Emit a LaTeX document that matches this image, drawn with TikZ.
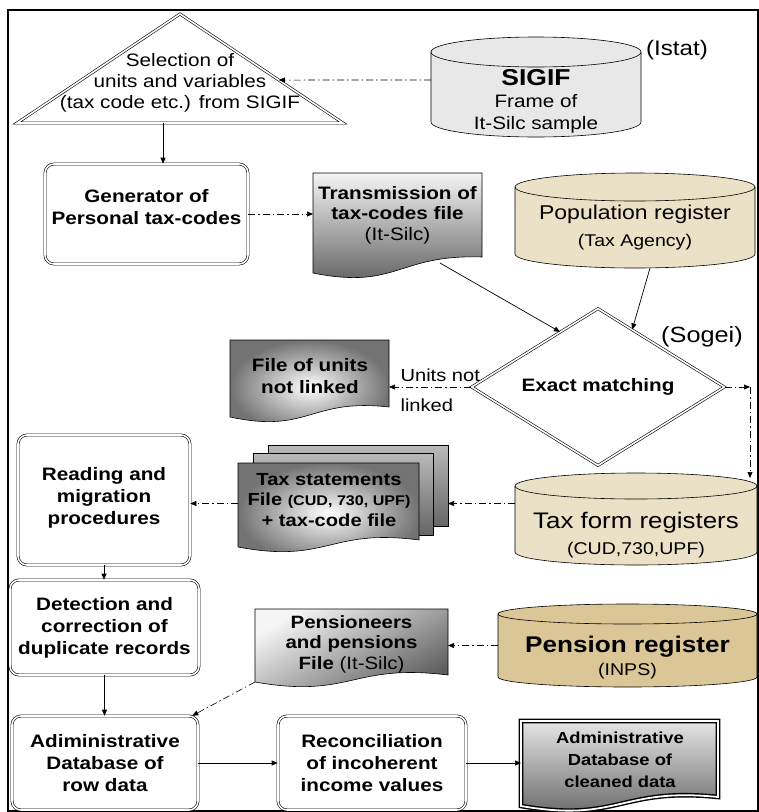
\documentclass[tikz,border=0pt]{standalone}
\usepackage{fontspec}
\setmainfont{Liberation Sans}[FakeStretch=1.15]
\usetikzlibrary{shapes.geometric,arrows.meta,calc,positioning}

\definecolor{marble}{RGB}{232,232,232}
\definecolor{burlap}{RGB}{234,225,198}
\definecolor{burlapdark}{RGB}{218,198,150}

\tikzset{
  hold/.style={inner sep=0pt,outer sep=0pt},
  dbl/.style={draw,double,double distance=1.6pt,line width=0.6pt},
  procbox/.style={dbl,rounded corners=9pt,align=center,font=\bfseries\fontsize{18}{22}\selectfont},
  link/.style={line width=0.7pt,-{Triangle[length=6pt,width=5pt]}},
  linkdd/.style={line width=0.6pt,dash pattern=on 7pt off 3pt on 1.5pt off 3pt,-{Triangle[length=6pt,width=5pt]}},
  vshade/.style={draw,line width=0.6pt,top color=gray!8,bottom color=gray!70!black},
  rshade/.style={draw,line width=0.6pt,inner color=white,outer color=gray!90!black},
  sheet/.style={hold,draw,line width=0.5pt,top color=gray!55,bottom color=gray!80!black},
}

% cylinder: node, half width, ry, fill
\newcommand{\drum}[4]{%
  \draw[fill=#4,line width=0.6pt] (#1.north west) -- (#1.south west)
    arc[start angle=180,end angle=360,x radius=#2,y radius=#3]
    -- (#1.north east) arc[start angle=0,end angle=180,x radius=#2,y radius=#3] -- cycle;
  \draw[line width=0.6pt] (#1.north west) arc[start angle=180,end angle=360,x radius=#2,y radius=#3];}

% document with wavy bottom: node, style, rise of right end
\newcommand{\docshape}[3]{%
  \draw[#2] (#1.north west) -- (#1.north east) -- ([yshift=#3pt]#1.south east)
    .. controls ([yshift=16pt]#1.south) and ([yshift=-20pt]#1.south) .. ([yshift=-3pt]#1.south west) -- cycle;}

\begin{document}
\begin{tikzpicture}[x=1pt,y=1pt,font=\fontsize{18}{21}\selectfont]
\useasboundingbox (0,0) rectangle (759,-812);
\draw[line width=2.4pt] (8,-10) rectangle (758,-811);

% selection
\coordinate (selapex) at (180,-14);
\coordinate (selleft) at (17,-123);
\coordinate (selright) at (343,-123);
\draw[dbl] (selapex) -- (selright) -- (selleft) -- cycle;
\node[align=center] (sel) at (180,-83) {Selection of\\units and variables\\(tax code etc.) from SIGIF};
\coordinate (selbase) at (163,-123);
\coordinate (selside) at ($(selapex)!0.606!(selright)$);

% SIGIF
\node[hold,minimum width=210pt,minimum height=70pt] (sigif) at (536,-87) {};
\drum{sigif}{105}{15}{marble}
\node[align=center,font=\fontsize{18}{22}\selectfont] (sigiftxt) at (536,-101) {{\bfseries\fontsize{23}{26}\selectfont SIGIF}\\Frame of\\It-Silc sample};
\node[font=\fontsize{21}{24}\selectfont] (istat) at (677,-50) {(Istat)};

% generator
\node[procbox,minimum width=203pt,minimum height=100pt] (gen) at (146.5,-214) {Generator of\\Personal tax-codes\\[-8pt]};

% transmission
\node[hold,minimum width=169pt,minimum height=97pt] (trans) at (397.5,-221.5) {};
\docshape{trans}{vshade}{13}
\node[align=center,font=\fontsize{18}{20.5}\selectfont] (transtxt) at (397.5,-215) {\textbf{Transmission of}\\\textbf{tax-codes file}\\(It-Silc)};

% population register
\node[hold,minimum width=240pt,minimum height=67pt] (popreg) at (635,-220.5) {};
\drum{popreg}{120}{14}{burlap}
\node[align=center,font=\fontsize{20}{27}\selectfont] (popregtxt) at (635,-228) {Population register\\{\fontsize{17}{20}\selectfont (Tax Agency)}};

% exact matching
\node[diamond,dbl,aspect=1.6,inner sep=0pt,minimum width=253pt,minimum height=157pt,font=\bfseries\fontsize{18}{21}\selectfont] (match) at (598,-387) {Exact matching};
\node[font=\fontsize{22}{24}\selectfont] (sogei) at (702,-337) {(Sogei)};

% units not linked
\node[hold,minimum width=159pt,minimum height=74pt] (notlinked) at (309.5,-377) {};
\docshape{notlinked}{rshade}{7}
\node[align=center,font=\bfseries\fontsize{18}{22}\selectfont] (notlinkedtxt) at (310,-376) {File of units\\not linked};
\node[align=left,anchor=west,font=\fontsize{17.5}{30}\selectfont] (unitsnot) at (397,-390) {Units not\\linked};

% tax statements
\node[sheet,minimum width=180pt,minimum height=81pt] (sheetb) at (358,-485.5) {};
\node[sheet,minimum width=180pt,minimum height=82pt] (sheetm) at (343,-494) {};
\node[hold,minimum width=181pt,minimum height=81pt] (taxst) at (328.5,-503.5) {};
\docshape{taxst}{rshade}{4}
\node[align=center,font=\bfseries\fontsize{17.5}{20.5}\selectfont] (taxsttxt) at (329,-500) {Tax statements\\File {\fontsize{14}{16}\selectfont (CUD, 730, UPF)}\\+ tax-code file};

% tax form registers
\node[hold,minimum width=242pt,minimum height=66pt] (taxreg) at (636,-519) {};
\drum{taxreg}{121}{13}{burlap}
\node[align=center,font=\fontsize{22.5}{26}\selectfont] (taxregtxt) at (636,-535) {Tax form registers\\{\fontsize{17}{20}\selectfont (CUD,730,UPF)}};
\coordinate (corner) at (750,-387);
\coordinate (regtop) at (750,-478);

% procedures
\node[procbox,minimum width=172pt,minimum height=130pt] (reading) at (104,-500) {Reading and\\migration\\procedures\\[-14pt]};
\node[procbox,minimum width=189pt,minimum height=95pt] (detection) at (104.5,-627.5) {Detection and\\correction of\\duplicate records};
\node[procbox,minimum width=186pt,minimum height=94pt] (adminraw) at (105,-763) {Adiministrative\\Database of\\row data};
\node[procbox,minimum width=188pt,minimum height=94pt] (reconcil) at (372,-763) {Reconciliation\\of incoherent\\income values};

% pensions
\node[hold,minimum width=193pt,minimum height=70pt] (pens) at (351.5,-644) {};
\docshape{pens}{vshade,shading angle=30}{4}
\node[align=center,font=\fontsize{17.8}{20.5}\selectfont] (penstxt) at (351.5,-644) {\textbf{Pensioneers}\\\textbf{and pensions}\\\textbf{File} (It-Silc)};
\node[hold,minimum width=259pt,minimum height=63pt] (penreg) at (627.5,-645.5) {};
\drum{penreg}{129.5}{10}{burlapdark}
\node[align=center,font=\bfseries\fontsize{22.7}{23}\selectfont] (penregtxt) at (627.5,-658) {Pension register\\{\mdseries\fontsize{17}{20}\selectfont (INPS)}};

% cleaned data
\node[hold,minimum width=197pt,minimum height=82pt] (cleaned) at (619.5,-762) {};
\docshape{cleaned}{double,double distance=1.8pt,line width=1.4pt,top color=gray!20,middle color=white,bottom color=gray!75!black}{6}
\node[align=center,font=\bfseries\fontsize{16}{22}\selectfont] (cleanedtxt) at (620,-760) {Administrative\\Database of\\cleaned data};

% connectors
\draw[linkdd] ([yshift=7pt]sigif.west) -- (selside);
\draw[link] (selbase) -- (selbase |- gen.north);
\draw[linkdd] (gen.east) -- (gen.east -| trans.west);
\coordinate (transout) at (440,-263);
\draw[link] (transout) -- ($(match.west)!0.7!(match.north)$);
\draw[link] ([xshift=15pt,yshift=-14pt]popreg.south) -- ($(match.north)!0.27!(match.east)$);
\draw[linkdd] (match.west) -- (match.west -| notlinked.east);
\draw[linkdd] (match.east) -- (corner);
\draw[linkdd] (corner) -- (regtop);
\draw[linkdd] (taxreg.west |- taxst) -- (sheetb.east |- taxst);
\draw[linkdd] (taxst.west) -- (taxst.west -| reading.east);
\draw[link] (reading.south) -- (reading.south |- detection.north);
\draw[link] (detection.south) -- (detection.south |- adminraw.north);
\draw[linkdd] ([yshift=-3pt]pens.south west) -- ([xshift=-6pt]adminraw.north east);
\draw[linkdd] (penreg.west) -- (penreg.west -| pens.east);
\draw[link] (adminraw.east) -- (reconcil.west);
\draw[link] (reconcil.east) -- (reconcil.east -| cleaned.west);
\end{tikzpicture}
\end{document}
